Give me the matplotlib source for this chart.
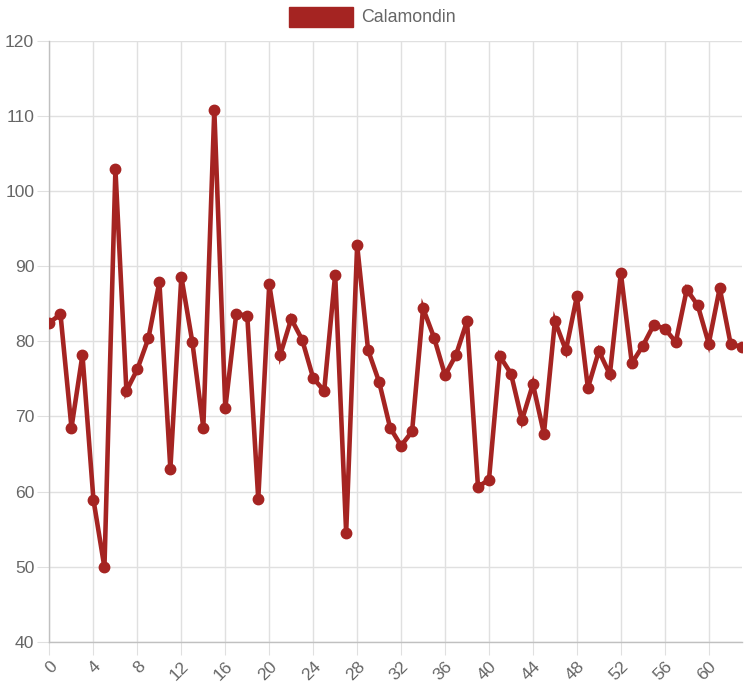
import matplotlib
matplotlib.use("Agg")
import matplotlib.pyplot as plt
from matplotlib.patches import Rectangle

plt.rcParams['font.family'] = ['Liberation Sans', 'DejaVu Sans']

series_name = "Calamondin"
x_values = list(range(64))
y_values = [82.5, 83.6, 68.5, 78.2, 58.9, 49.9, 102.9, 73.4, 76.3, 80.4,
            87.9, 63.0, 88.6, 79.9, 68.5, 110.8, 71.1, 83.7, 83.4, 59.0,
            87.6, 78.2, 83.0, 80.2, 75.1, 73.4, 88.9, 54.5, 92.8, 78.8,
            74.6, 68.5, 66.1, 68.0, 84.4, 80.5, 75.5, 78.2, 82.7, 60.6,
            61.6, 78.0, 75.7, 69.5, 74.3, 67.7, 82.7, 78.8, 86.0, 73.8,
            78.7, 75.6, 89.1, 77.1, 79.4, 82.2, 81.7, 79.9, 86.9, 84.8,
            79.7, 87.1, 79.6, 79.3]
x_ticks = list(range(0, 64, 4))
y_ticks = [40, 50, 60, 70, 80, 90, 100, 110, 120]

color = '#A52422'
W, H = 752, 687
fig = plt.figure(figsize=(W / 100, H / 100), dpi=100)
left, right, top, bottom = 49.5, 741.7, 41, 641.7
ax = fig.add_axes([left / W, (H - bottom) / H, (right - left) / W, (bottom - top) / H])

ax.plot(x_values, y_values, color=color, lw=3.3, solid_joinstyle='miter',
        marker='o', ms=7.5, mfc=color, mec=color, zorder=3)

ax.set_xlim(0, 63)
ax.set_ylim(40, 120)
ax.set_xticks(x_ticks)
ax.set_xticklabels([str(t) for t in x_ticks], rotation=45, ha='right', va='top',
                   rotation_mode='anchor')
ax.set_yticks(y_ticks)
ax.set_yticklabels([str(t) for t in y_ticks])
ax.grid(True, color='#e0e0e0', lw=1)
ax.set_axisbelow(True)
ax.tick_params(axis='both', length=9, color='#e0e0e0', labelcolor='#666666', labelsize=12.6)
ax.tick_params(axis='x', pad=3)
ax.tick_params(axis='y', pad=2)
for s in ['top', 'right']:
    ax.spines[s].set_visible(False)
for s in ['left', 'bottom']:
    ax.spines[s].set_color('#c0c0c0')
    ax.spines[s].set_linewidth(1)

# legend
fig.patches.append(Rectangle((289 / W, 1 - 27 / H), 64 / W, 20 / H,
                             transform=fig.transFigure, facecolor=color,
                             edgecolor=color, lw=1))
fig.text(361 / W, 1 - 17 / H, series_name, color='#666666', fontsize=12.8,
         va='center', ha='left')

fig.savefig('out.png', dpi=100)
